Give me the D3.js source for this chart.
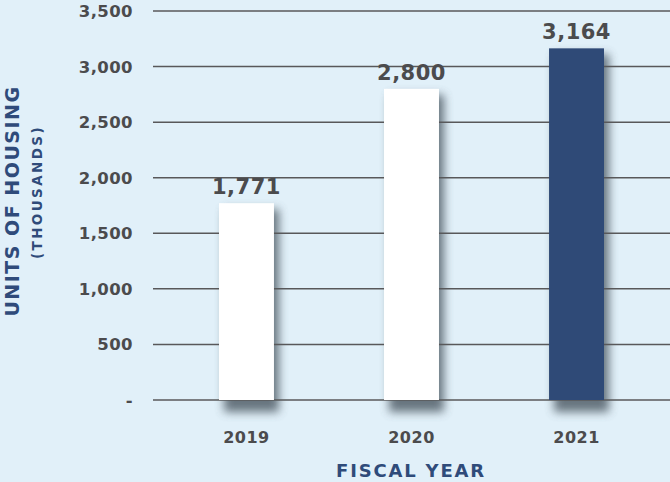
<!DOCTYPE html>
<html>
<head>
<meta charset="utf-8">
<script src="https://d3js.org/d3.v7.min.js"></script>
<style>
    body { margin: 0; background: #e1f0f9; }
    svg { display: block; }
    .tick-label { font-family: "DejaVu Sans", sans-serif; font-weight: bold; fill: #4b4b4d; }
    .axis-title { font-family: "DejaVu Sans", sans-serif; font-weight: bold; fill: #2f4b7a; }
</style>
</head>
<body>
<div id="chart-container"></div>
<script>
    // Data
    const years = ['2019', '2020', '2021'];
    const units = [1771, 2800, 3164];
    const valueLabels = ['1,771', '2,800', '3,164'];
    const yTicks = [0, 500, 1000, 1500, 2000, 2500, 3000, 3500];
    const barColors = ['#ffffff', '#ffffff', '#2f4a77'];

    const W = 670, H = 482;
    const plotLeft = 153, plotRight = 670;

    const svg = d3.select('#chart-container')
        .append('svg')
        .attr('width', W)
        .attr('height', H);

    svg.append('rect').attr('width', W).attr('height', H).attr('fill', '#e1f0f9');

    // shadow blur
    const defs = svg.append('defs');
    defs.append('filter')
        .attr('id', 'shadow')
        .attr('x', '-50%').attr('y', '-50%').attr('width', '200%').attr('height', '200%')
        .append('feGaussianBlur')
        .attr('stdDeviation', 5);

    const x = d3.scaleBand()
        .domain(years)
        .range([plotLeft, plotRight])
        .paddingInner(0.667)
        .paddingOuter(0.4);

    const y = d3.scaleLinear()
        .domain([0, 3500])
        .range([400, 11]);

    const data = years.map((yr, i) => ({ year: yr, value: units[i], label: valueLabels[i], color: barColors[i] }));

    // Bar shadows (behind gridlines)
    svg.append('g')
        .selectAll('rect')
        .data(data)
        .enter()
        .append('rect')
        .attr('x', d => x(d.year) + 5)
        .attr('y', d => y(d.value) + 6)
        .attr('width', x.bandwidth())
        .attr('height', d => y(0) - y(d.value) + 6)
        .attr('fill', '#4a5660')
        .attr('opacity', 0.8)
        .attr('filter', 'url(#shadow)');

    // Gridlines
    svg.append('g')
        .selectAll('line')
        .data(yTicks)
        .enter()
        .append('line')
        .attr('x1', plotLeft)
        .attr('x2', plotRight)
        .attr('y1', d => y(d))
        .attr('y2', d => y(d))
        .attr('stroke', '#58585a')
        .attr('stroke-width', 1.5);

    // Y tick labels
    svg.append('g')
        .selectAll('text')
        .data(yTicks)
        .enter()
        .append('text')
        .attr('class', 'tick-label')
        .attr('x', 133)
        .attr('y', d => y(d))
        .attr('dy', '0.36em')
        .attr('text-anchor', 'end')
        .style('font-size', '16.5px')
        .style('letter-spacing', '0.4px')
        .text(d => d === 0 ? '-' : d3.format(',')(d));

    // Bars
    svg.append('g')
        .selectAll('rect')
        .data(data)
        .enter()
        .append('rect')
        .attr('x', d => x(d.year))
        .attr('y', d => y(d.value))
        .attr('width', x.bandwidth())
        .attr('height', d => y(0) - y(d.value))
        .attr('fill', d => d.color);

    // Value labels
    svg.append('g')
        .selectAll('text')
        .data(data)
        .enter()
        .append('text')
        .attr('class', 'tick-label')
        .attr('x', d => x(d.year) + x.bandwidth() / 2)
        .attr('y', d => y(d.value) - 9)
        .attr('text-anchor', 'middle')
        .style('font-size', '21px')
        .style('letter-spacing', '0.5px')
        .text(d => d.label);

    // X labels
    svg.append('g')
        .selectAll('text')
        .data(years)
        .enter()
        .append('text')
        .attr('class', 'tick-label')
        .attr('x', d => x(d) + x.bandwidth() / 2)
        .attr('y', 443)
        .attr('text-anchor', 'middle')
        .style('font-size', '16px')
        .style('letter-spacing', '0.5px')
        .text(d => d);

    // Axis titles
    svg.append('text')
        .attr('class', 'axis-title')
        .attr('x', 411)
        .attr('y', 477)
        .attr('text-anchor', 'middle')
        .style('font-size', '18px')
        .style('letter-spacing', '1.8px')
        .text('FISCAL YEAR');

    svg.append('text')
        .attr('class', 'axis-title')
        .attr('transform', 'translate(19,201) rotate(-90)')
        .attr('text-anchor', 'middle')
        .style('font-size', '19px')
        .style('letter-spacing', '1.5px')
        .text('UNITS OF HOUSING');

    svg.append('text')
        .attr('class', 'axis-title')
        .attr('transform', 'translate(42,192) rotate(-90)')
        .attr('text-anchor', 'middle')
        .style('font-size', '13.5px')
        .style('letter-spacing', '2.4px')
        .text('(THOUSANDS)');
</script>
</body>
</html>
